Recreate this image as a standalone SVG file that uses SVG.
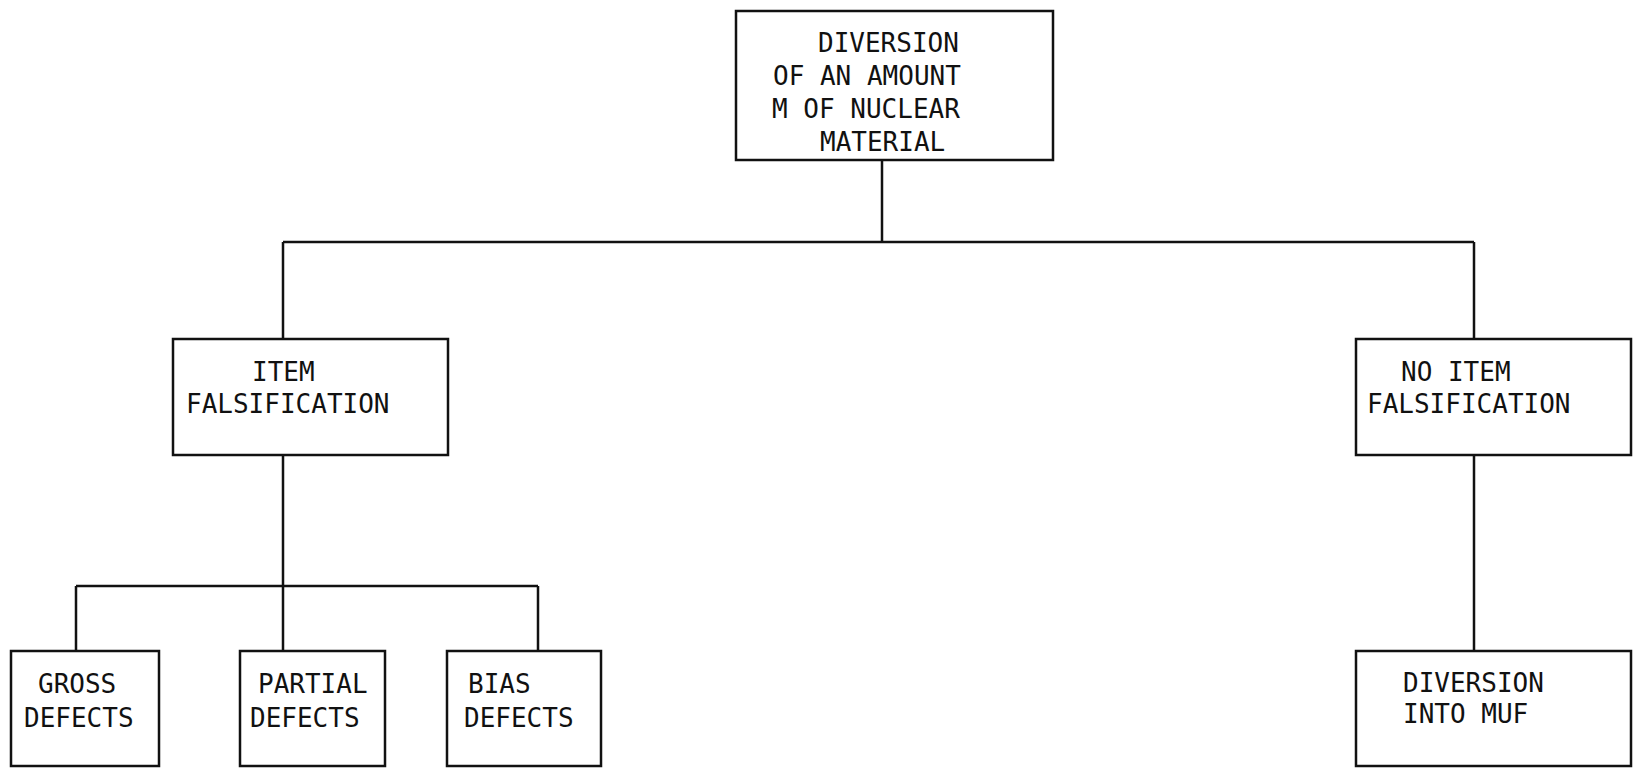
<svg xmlns="http://www.w3.org/2000/svg" width="1634" height="769" viewBox="0 0 1634 769">
<style>
.box{fill:#fff;stroke:#111;stroke-width:2.5}
.ln{stroke:#111;stroke-width:2.5;fill:none}
text{font-family:"DejaVu Sans Mono","Liberation Mono",monospace;font-size:26px;fill:#111}
</style>
<rect width="1634" height="769" fill="#fff"/>
<g id="connectors">
<path class="ln" d="M882 160V242M283 242H1474M283 242V339M1474 242V339M283 455V586M76 586H538M76 586V651M283 586V651M538 586V651M1474 455V651"/>
</g>
<g id="root">
<rect class="box" x="736" y="11" width="317" height="149"/>
<text x="818" y="52">DIVERSION</text>
<text x="773" y="85">OF AN AMOUNT</text>
<text x="772" y="118">M OF NUCLEAR</text>
<text x="820" y="151">MATERIAL</text>
</g>
<g id="item">
<rect class="box" x="173" y="339" width="275" height="116"/>
<text x="252" y="381">ITEM</text>
<text x="186" y="413">FALSIFICATION</text>
</g>
<g id="noitem">
<rect class="box" x="1356" y="339" width="275" height="116"/>
<text x="1401" y="381">NO ITEM</text>
<text x="1367" y="413">FALSIFICATION</text>
</g>
<g id="gross">
<rect class="box" x="11" y="651" width="148" height="115"/>
<text x="38" y="693">GROSS</text>
<text x="24" y="727">DEFECTS</text>
</g>
<g id="partial">
<rect class="box" x="240" y="651" width="145" height="115"/>
<text x="258" y="693">PARTIAL</text>
<text x="250" y="727">DEFECTS</text>
</g>
<g id="bias">
<rect class="box" x="447" y="651" width="154" height="115"/>
<text x="468" y="693">BIAS</text>
<text x="464" y="727">DEFECTS</text>
</g>
<g id="muf">
<rect class="box" x="1356" y="651" width="275" height="115"/>
<text x="1403" y="692">DIVERSION</text>
<text x="1403" y="723">INTO MUF</text>
</g>
</svg>
